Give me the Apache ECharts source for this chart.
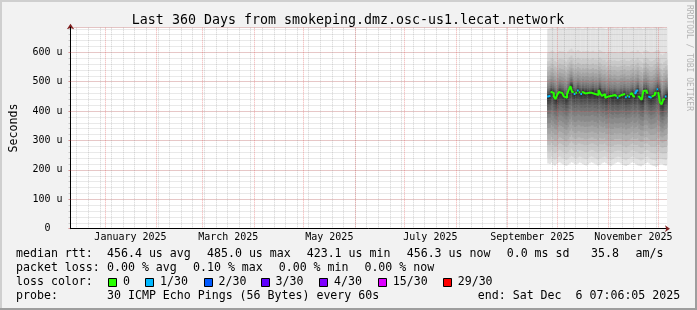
<!DOCTYPE html>
<html><head><meta charset="utf-8">
<script src="https://cdn.jsdelivr.net/npm/echarts@6/dist/echarts.min.js"></script>
<style>html,body{margin:0;padding:0;background:#f2f2f2}#c{width:697px;height:310px}</style>
</head><body><div id="c"></div>
<script>
// ---- time frame ----
const startTime = Date.UTC(2024, 11, 11, 7, 6, 5);
const DAY = 86400000;
const spanDays = 360;
const monthStarts = ['2025-01-01','2025-02-01','2025-03-01','2025-04-01','2025-05-01','2025-06-01','2025-07-01','2025-08-01','2025-09-01','2025-10-01','2025-11-01','2025-12-01'];
const labelMonths = ['2025-01-01','2025-03-01','2025-05-01','2025-07-01','2025-09-01','2025-11-01'];
const labelNextMonths = ['2025-02-01','2025-04-01','2025-06-01','2025-08-01','2025-10-01','2025-12-01'];
const monthLabels = ['January 2025','March 2025','May 2025','July 2025','September 2025','November 2025'];
const firstWeekLine = '2024-12-15';
const yMax = 685;

// ---- data (microseconds), one value per day from dataStart ----
const dataStart = '2025-09-25';
const median = [449,452,466,462,450,441,455,465,462,458,450,445,458,472,485,465,458,462,470,464,458,466,460,464,462,458,462,466,458,462,455,472,460,452,458,445,450,456,452,447,455,449,445,449,455,452,458,447,452,449,455,462,450,458,470,452,445,438,468,470,462,450,445,449,455,462,474,465,430,423,440,450,456];
const loss = [1,1,0,0,0,0,0,0,0,0,0,0,0,0,0,0,1,0,1,0,1,0,0,0,0,0,0,0,0,0,0,0,0,0,0,0,0,0,0,0,0,0,1,0,0,0,0,1,0,1,0,0,0,1,1,0,0,0,0,0,0,1,1,0,0,0,1,0,0,0,0,1,0];
const smokeLow = [222,220,225,218,215,220,224,226,222,219,216,214,218,222,226,224,220,218,222,225,223,220,217,215,219,223,226,224,221,218,215,217,221,224,226,223,219,216,214,218,221,224,227,225,222,218,215,213,217,220,224,226,223,219,216,214,212,216,220,223,225,222,218,215,213,211,214,218,221,219,216,214,217];
const smokeHigh = [680,682,684,683,681,684,685,683,682,684,683,681,684,685,685,684,682,683,685,684,682,681,683,684,685,683,682,684,683,681,682,684,685,683,682,680,683,684,685,684,682,683,684,682,681,683,685,684,682,683,684,685,683,682,684,685,683,681,682,684,685,684,683,682,684,685,683,684,685,684,682,683,684];
// estimated spread of the sorted pings (band k = ping k .. ping 31-k), as fraction of median->extreme distance
const smokeShapeLow  = [1.0,0.915,0.82,0.725,0.64,0.555,0.47,0.40,0.32,0.26,0.20,0.15,0.11,0.068,0.034];
const smokeShapeHigh = [1.0,0.64,0.52,0.44,0.37,0.305,0.25,0.195,0.15,0.115,0.088,0.062,0.044,0.027,0.013];

const lossColors = ['#26ff00','#00b8ff','#0059ff','#5e00ff','#7e00ff','#dd00ff','#ff0000'];
const lossLabels = ['0','1/30','2/30','3/30','4/30','15/30','29/30'];
const rttStats = ['median rtt:','456.4 us avg','485.0 us max','423.1 us min','456.3 us now','0.0 ms sd','35.8','am/s'];
const lossStats = ['packet loss:','0.00 % avg','0.10 % max','0.00 % min','0.00 % now'];
const probeText = ['probe:','30 ICMP Echo Pings (56 Bytes) every 60s','end: Sat Dec  6 07:06:05 2025'];
const titleText = 'Last 360 Days from smokeping.dmz.osc-us1.lecat.network';

// ---- helpers ----
const dayOf = s => (Date.parse(s + 'T00:00:00Z') - startTime) / DAY;
const d0 = dayOf(dataStart);
const xs = median.map((_, i) => d0 + i);
const xEnd = i => Math.min(d0 + i + 1, spanDays);

// smoke rectangles, band-major order (light outer first)
const smokeData = [];
for (let k = 0; k < 15; k++) {
  for (let i = 0; i < median.length; i++) {
    const lo = median[i] - (median[i] - smokeLow[i]) * smokeShapeLow[k];
    const hi = median[i] + (smokeHigh[i] - median[i]) * smokeShapeHigh[k];
    smokeData.push([xs[i], xEnd(i), lo, hi, k]);
  }
}

// median line per loss level
function medianSeries(level) {
  const d = [];
  for (let i = 0; i < median.length; i++) {
    if (loss[i] !== level) continue;
    d.push([xs[i], median[i]]);
    if (i === median.length - 1 || loss[i + 1] !== level) {
      d.push([xEnd(i), median[i]]);
      d.push([xEnd(i), '-']);
    }
  }
  return {
    type: 'line', step: 'end', data: d, showSymbol: false, symbol: 'none',
    connectNulls: false, z: 5, silent: true, animation: false,
    lineStyle: { color: lossColors[level], width: 2 }
  };
}

const MONO = '"DejaVu Sans Mono", monospace';
const minorGrid = 'rgba(140,140,140,0.38)';
const majorGrid = 'rgba(225,80,80,0.45)';

const vLines = [];
for (let d = dayOf(firstWeekLine); d < spanDays; d += 7) vLines.push({ xAxis: d, lineStyle: { color: minorGrid, type: [1, 1], width: 1 } });
monthStarts.forEach(m => vLines.push({ xAxis: dayOf(m), lineStyle: { color: majorGrid, type: [1, 1], width: 1 } }));

const labelPos = labelMonths.map((m, i) => (dayOf(m) + dayOf(labelNextMonths[i])) / 2);

// ---- graphic texts (title, legend, watermark) ----
const g = [];
const txt = (t, x, y, extra) => g.push(Object.assign({ type: 'text', silent: true, style: Object.assign({ text: t, x: x, y: y, font: '11.6px ' + MONO, fill: '#000', verticalAlign: 'middle' }, extra || {}) }));
// frame shading
g.push({ type: 'rect', silent: true, shape: { x: 0, y: 0, width: 697, height: 2 }, style: { fill: '#cfcfcf' } });
g.push({ type: 'rect', silent: true, shape: { x: 0, y: 0, width: 2, height: 310 }, style: { fill: '#cfcfcf' } });
g.push({ type: 'rect', silent: true, shape: { x: 0, y: 308, width: 697, height: 2 }, style: { fill: '#9e9e9e' } });
g.push({ type: 'rect', silent: true, shape: { x: 695, y: 0, width: 2, height: 310 }, style: { fill: '#9e9e9e' } });
txt(titleText, 348, 20.4, { font: '13.3px ' + MONO, align: 'center' });
const r1x = [16, 107, 207, 306.7, 406.7, 506.7, 591, 635.6];
rttStats.forEach((t, i) => txt(t, r1x[i], 254.3));
const r2x = [16, 107, 193, 278.7, 364.4];
lossStats.forEach((t, i) => txt(t, r2x[i], 268.3));
txt('loss color:', 16, 282.3);
const boxX = [108, 145, 203.5, 260.5, 319, 377.8, 442.7];
lossLabels.forEach((t, i) => {
  g.push({ type: 'rect', silent: true, shape: { x: Math.round(boxX[i]) + 0.5, y: 278.5, width: 8, height: 8 }, style: { fill: lossColors[i], stroke: '#000', lineWidth: 1 } });
  txt(t, boxX[i] + 15, 282.3);
});
const r4x = [16, 107, 477.8];
probeText.forEach((t, i) => txt(t, r4x[i], 296.3));
g.push({ type: 'text', silent: true, x: 689, y: 5, rotation: -Math.PI / 2,
  style: { text: 'RRDTOOL / TOBI OETIKER', x: 0, y: 0, font: '8px ' + MONO, fill: '#b4b4b4', align: 'left', verticalAlign: 'middle' } });

const chart = echarts.init(document.getElementById('c'));
chart.setOption({
  animation: false,
  backgroundColor: '#f2f2f2',
  grid: { left: 67, top: 27.3, width: 600, height: 201.4, show: true, backgroundColor: '#ffffff', borderWidth: 0 },
  xAxis: [{
    type: 'value', min: 0, max: spanDays, z: 6,
    axisLine: { show: true, onZero: false, lineStyle: { color: '#000', width: 1 } },
    axisTick: { show: false }, splitLine: { show: false },
    axisLabel: { show: true, customValues: labelPos, margin: 4, color: '#000', fontFamily: MONO, fontSize: 10,
      formatter: v => { let b = 0; labelPos.forEach((p, i) => { if (Math.abs(p - v) < Math.abs(labelPos[b] - v)) b = i; }); return monthLabels[b]; } }
  }, {
    type: 'value', min: 0, max: spanDays, position: 'bottom', z: 6,
    axisLine: { show: true, onZero: false, symbol: ['none', 'arrow'], symbolSize: [5, 5], symbolOffset: [0, 3], lineStyle: { color: '#7f1f1f', opacity: 0 } },
    axisTick: { show: false }, splitLine: { show: false }, axisLabel: { show: false }
  }],
  yAxis: [{
    type: 'value', min: 0, max: yMax, interval: 100, z: 4,
    name: 'Seconds', nameLocation: 'middle', nameGap: 50.5, nameTextStyle: { fontFamily: MONO, fontSize: 11.6, color: '#000' },
    axisLine: { show: true, lineStyle: { color: '#000', width: 1 } },
    axisTick: { show: true, length: 2, lineStyle: { color: majorGrid } },
    splitLine: { show: true, lineStyle: { color: majorGrid, type: [1, 1], width: 1 } },
    axisLabel: { margin: 8, color: '#000', fontFamily: MONO, fontSize: 10, showMaxLabel: false, formatter: v => v === 0 ? '0\u00a0\u00a0' : v + ' u' }
  }, {
    type: 'value', min: 0, max: yMax, interval: 20, z: 3, position: 'left',
    axisLine: { show: true, symbol: ['none', 'arrow'], symbolSize: [5.5, 5.5], symbolOffset: [0, 3.5], lineStyle: { color: '#7f1f1f', opacity: 0 } },
    axisLabel: { show: false },
    axisTick: { show: true, length: 2, lineStyle: { color: minorGrid } },
    splitLine: { show: true, lineStyle: { color: minorGrid, type: [1, 1], width: 1 } }
  }],
  series: [{
    type: 'custom', z: 1, silent: true, clip: true, animation: false,
    data: smokeData,
    renderItem: (params, api) => {
      const a = api.coord([api.value(0), api.value(3)]);
      const b = api.coord([api.value(1), api.value(2)]);
      const k = api.value(4) + 1;
      const c = Math.floor(190 / 15 * (15 - k)) + 50;
      return { type: 'rect', shape: { x: a[0], y: a[1], width: b[0] - a[0] + 0.4, height: b[1] - a[1] }, style: { fill: 'rgb(' + c + ',' + c + ',' + c + ')' } };
    },
    encode: { x: [0, 1], y: [2, 3] }
  }, {
    type: 'line', data: [[0, '-']], z: 3, silent: true, symbol: 'none',
    markLine: { silent: true, symbol: ['none', 'none'], label: { show: false }, animation: false, data: vLines }
  }, medianSeries(0), medianSeries(1)],
  graphic: g
});
</script></body></html>
